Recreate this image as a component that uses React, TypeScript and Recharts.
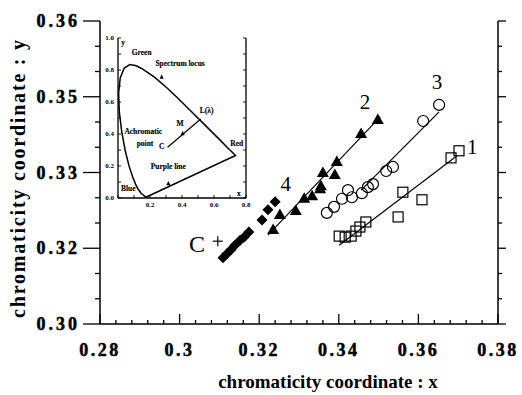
import { ScatterChart, Scatter, XAxis, YAxis, ReferenceDot } from 'recharts'

// ---- main axes
const xMajorTicks = [0.28, 0.3, 0.32, 0.34, 0.36, 0.38]
const xTickLabels = ['0.28', '0.3', '0.32', '0.34', '0.36', '0.38']
const xMinorTicks = [
  0.284, 0.288, 0.292, 0.296, 0.304, 0.308, 0.312, 0.316, 0.324, 0.328,
  0.332, 0.336, 0.344, 0.348, 0.352, 0.356, 0.364, 0.368, 0.372, 0.376,
]
// labels as printed on the scan
const yMajorTicks = [0.3, 0.315, 0.33, 0.345, 0.36]
const yTickLabels = ['0.30', '0.32', '0.33', '0.35', '0.36']
const yMinorTicks = [0.305, 0.31, 0.32, 0.325, 0.335, 0.34, 0.35, 0.355]

// ---- main series
const series1 = [
  { x: 0.3401, y: 0.3174 }, { x: 0.3416, y: 0.3172 }, { x: 0.3431, y: 0.3174 },
  { x: 0.3443, y: 0.3184 }, { x: 0.3453, y: 0.3192 }, { x: 0.3468, y: 0.3202 },
  { x: 0.3549, y: 0.3212 }, { x: 0.3561, y: 0.3261 }, { x: 0.3609, y: 0.3246 },
  { x: 0.3682, y: 0.3329 }, { x: 0.3702, y: 0.3343 },
]
const series2 = [
  { x: 0.3235, y: 0.3186 }, { x: 0.3252, y: 0.3216 }, { x: 0.3292, y: 0.3224 },
  { x: 0.3313, y: 0.3248 }, { x: 0.3333, y: 0.3253 }, { x: 0.3353, y: 0.3267 },
  { x: 0.3355, y: 0.3273 }, { x: 0.336, y: 0.3299 }, { x: 0.339, y: 0.3295 },
  { x: 0.3395, y: 0.3321 }, { x: 0.3456, y: 0.3376 }, { x: 0.3498, y: 0.3404 },
]
const series3 = [
  { x: 0.337, y: 0.322 }, { x: 0.3388, y: 0.3232 }, { x: 0.3408, y: 0.3248 },
  { x: 0.3423, y: 0.3265 }, { x: 0.3433, y: 0.3251 }, { x: 0.3458, y: 0.3259 },
  { x: 0.3473, y: 0.3271 }, { x: 0.3486, y: 0.3277 }, { x: 0.3519, y: 0.3303 },
  { x: 0.3536, y: 0.3311 }, { x: 0.3612, y: 0.3402 }, { x: 0.3652, y: 0.3434 },
]
const series4 = [
  { x: 0.3109, y: 0.3131 }, { x: 0.3119, y: 0.3139 }, { x: 0.3129, y: 0.3147 },
  { x: 0.3139, y: 0.3156 }, { x: 0.3152, y: 0.3166 }, { x: 0.3162, y: 0.3172 },
  { x: 0.3174, y: 0.3182 }, { x: 0.3207, y: 0.3206 }, { x: 0.3222, y: 0.3226 },
  { x: 0.324, y: 0.3242 },
]
const fit1 = [{ x: 0.3401, y: 0.3156 }, { x: 0.3697, y: 0.3333 }]
const fit2 = [{ x: 0.3222, y: 0.3176 }, { x: 0.3504, y: 0.341 }]
const fit3 = [{ x: 0.3456, y: 0.3265 }, { x: 0.3652, y: 0.342 }]
const pointC = [{ x: 0.3096, y: 0.3164 }]

const curveLabels = [
  { text: '1', x: 0.3735, y: 0.335 },
  { text: '2', x: 0.3466, y: 0.344 },
  { text: '3', x: 0.3647, y: 0.3479 },
  { text: '4', x: 0.3267, y: 0.3277 },
]
const cLabel = { text: 'C', x: 0.3044, y: 0.3158 }

// ---- inset (CIE 1931 diagram)
const insetXTicks = [0, 0.1, 0.2, 0.3, 0.4, 0.5, 0.6, 0.7, 0.8]
const insetXMajor = [0.2, 0.4, 0.6, 0.8]
const insetXLabels = ['0.2', '0.4', '0.6', '0.8']
const insetYTicks = [0, 0.1, 0.2, 0.3, 0.4, 0.5, 0.6, 0.7, 0.8, 0.9, 1.0]
const insetYMajor = [0, 0.2, 0.4, 0.6, 0.8, 1.0]
const insetYLabels = ['0.0', '0.2', '0.4', '0.6', '0.8', '1.0']

const locus = [
  { x: 0.1741, y: 0.005 }, { x: 0.144, y: 0.0297 }, { x: 0.1241, y: 0.0578 },
  { x: 0.1096, y: 0.0868 }, { x: 0.0913, y: 0.1327 }, { x: 0.0687, y: 0.2007 },
  { x: 0.0454, y: 0.295 }, { x: 0.0235, y: 0.4127 }, { x: 0.0082, y: 0.5384 },
  { x: 0.0039, y: 0.6548 }, { x: 0.0139, y: 0.7502 }, { x: 0.0389, y: 0.812 },
  { x: 0.0743, y: 0.8338 }, { x: 0.1142, y: 0.8262 }, { x: 0.1547, y: 0.8059 },
  { x: 0.2296, y: 0.7543 }, { x: 0.3016, y: 0.6923 }, { x: 0.3731, y: 0.6245 },
  { x: 0.4441, y: 0.5547 }, { x: 0.5125, y: 0.4866 }, { x: 0.5752, y: 0.4242 },
  { x: 0.627, y: 0.3725 }, { x: 0.6915, y: 0.3083 }, { x: 0.719, y: 0.2809 },
  { x: 0.7347, y: 0.2653 }, { x: 0.1741, y: 0.005 },
]
const dominantLine = [{ x: 0.31, y: 0.317 }, { x: 0.517, y: 0.494 }]
const insetArrows = [{ x: 0.404, y: 0.404 }, { x: 0.273, y: 0.758 }, { x: 0.315, y: 0.092 }]
const insetTexts = [
  { text: 'Green', x: 0.086, y: 0.911, anchor: 'start' },
  { text: 'Spectrum locus', x: 0.388, y: 0.842, anchor: 'middle' },
  { text: 'L(λ)', x: 0.554, y: 0.55, anchor: 'middle' },
  { text: 'M', x: 0.388, y: 0.467, anchor: 'middle' },
  { text: 'Achromatic', x: 0.158, y: 0.414, anchor: 'middle' },
  { text: 'point', x: 0.169, y: 0.342, anchor: 'middle' },
  { text: 'C', x: 0.273, y: 0.325, anchor: 'middle' },
  { text: 'Red', x: 0.742, y: 0.342, anchor: 'middle' },
  { text: 'Purple line', x: 0.314, y: 0.196, anchor: 'middle' },
  { text: 'Blue', x: 0.064, y: 0.061, anchor: 'middle' },
  { text: 'y', x: 0.02, y: 0.975, anchor: 'start' },
  { text: 'x', x: 0.755, y: 0.03, anchor: 'middle' },
]

const SERIF = '"Liberation Serif", "DejaVu Serif", serif'
const sortNum = (a: number[]) => [...a].sort((p, q) => p - q)

type TickCfg = {
  majors: number[]
  labels?: string[]
  dir: [number, number]
  majorLen: number
  minorLen: number
  lx?: number
  ly?: number
  anchor?: string
  fontSize?: number
  spacing?: number
  sw?: number
  heavy?: number
}

function makeTick(cfg: TickCfg) {
  return (props: any) => {
    const { x, y, payload } = props
    const idx = cfg.majors.findIndex(m => Math.abs(m - payload.value) < 1e-6)
    const len = idx >= 0 ? cfg.majorLen : cfg.minorLen
    const label = idx >= 0 && cfg.labels ? cfg.labels[idx] : ''
    return (
      <g>
        <line x1={x} y1={y} x2={x + cfg.dir[0] * len} y2={y + cfg.dir[1] * len} stroke="#000" strokeWidth={cfg.sw ?? 1.3} />
        {label && (
          <text
            x={x + (cfg.lx ?? 0)}
            y={y + (cfg.ly ?? 0)}
            textAnchor={cfg.anchor}
            dominantBaseline="central"
            fontFamily={SERIF}
            fontWeight="bold"
            fontSize={cfg.fontSize}
            style={{ letterSpacing: cfg.spacing ?? 0 }}
            fill="#000"
            stroke="#000"
            strokeWidth={cfg.heavy ?? 0}
          >
            {label}
          </text>
        )}
      </g>
    )
  }
}

const openSquare = (p: any) => <rect x={p.cx - 5} y={p.cy - 5} width={10} height={10} fill="none" stroke="#000" strokeWidth={1.2} />
const openCircle = (p: any) => <circle cx={p.cx} cy={p.cy} r={5.5} fill="none" stroke="#000" strokeWidth={1.2} />
const solidTriangle = (p: any) => (
  <polygon points={`${p.cx},${p.cy - 6.5} ${p.cx - 6},${p.cy + 4} ${p.cx + 6},${p.cy + 4}`} fill="#000" />
)
const solidDiamond = (p: any) => (
  <polygon points={`${p.cx},${p.cy - 5.5} ${p.cx + 5.5},${p.cy} ${p.cx},${p.cy + 5.5} ${p.cx - 5.5},${p.cy}`} fill="#000" />
)
const plusMark = (p: any) => (
  <g stroke="#000" strokeWidth={1.2}>
    <line x1={p.cx - 5} y1={p.cy} x2={p.cx + 5} y2={p.cy} />
    <line x1={p.cx} y1={p.cy - 5} x2={p.cx} y2={p.cy + 5} />
  </g>
)
const smallArrow = (p: any) => (
  <polygon points={`${p.cx},${p.cy - 2.5} ${p.cx - 2},${p.cy + 2} ${p.cx + 2},${p.cy + 2}`} fill="#000" />
)
const noDot = () => <g />

function Inset() {
  return (
    <div style={{ position: 'absolute', left: 90, top: 28 }}>
      <ScatterChart width={165} height={185} margin={{ top: 10, right: 0, bottom: 0, left: 0 }}>
        <XAxis
          type="number" dataKey="x" domain={[0, 0.8]} ticks={insetXTicks} interval={0}
          height={15} tickSize={0} tickMargin={0} tickLine={false}
          axisLine={{ stroke: '#000', strokeWidth: 1.3 }}
          tick={makeTick({ majors: insetXMajor, labels: insetXLabels, dir: [0, -1], majorLen: 3, minorLen: 3, ly: 7, anchor: 'middle', fontSize: 7, sw: 0.9 })}
        />
        <XAxis
          xAxisId="top" orientation="top" type="number" domain={[0, 0.8]} ticks={insetXTicks} interval={0}
          height={0} tickSize={0} tickMargin={0} tickLine={false} allowDataOverflow
          axisLine={{ stroke: '#000', strokeWidth: 1.3 }}
          tick={makeTick({ majors: [], dir: [0, 1], majorLen: 3, minorLen: 3, sw: 0.9 })}
        />
        <YAxis
          type="number" dataKey="y" domain={[0, 1]} ticks={insetYTicks} interval={0}
          width={28} tickSize={0} tickMargin={0} tickLine={false}
          axisLine={{ stroke: '#000', strokeWidth: 1.3 }}
          tick={makeTick({ majors: insetYMajor, labels: insetYLabels, dir: [1, 0], majorLen: 3, minorLen: 3, lx: -4, anchor: 'end', fontSize: 7, sw: 0.9 })}
        />
        <YAxis
          yAxisId="right" orientation="right" type="number" domain={[0, 1]} ticks={insetYTicks} interval={0}
          width={9} tickSize={0} tickMargin={0} tickLine={false} allowDataOverflow
          axisLine={{ stroke: '#000', strokeWidth: 1.3 }}
          tick={makeTick({ majors: [], dir: [-1, 0], majorLen: 3, minorLen: 3, sw: 0.9 })}
        />
        <Scatter data={locus} line={{ stroke: '#000', strokeWidth: 1.5 }} shape={noDot} isAnimationActive={false} />
        <Scatter data={dominantLine} line={{ stroke: '#000', strokeWidth: 1.2 }} shape={noDot} isAnimationActive={false} />
        <Scatter data={insetArrows} shape={smallArrow} isAnimationActive={false} />
        {insetTexts.map(t => (
          <ReferenceDot
            key={t.text}
            x={t.x}
            y={t.y}
            shape={(p: any) => (
              <text x={p.cx} y={p.cy} textAnchor={t.anchor} dominantBaseline="central" fontFamily={SERIF} fontWeight="bold" fontSize={7.5} fill="#000" stroke="#000" strokeWidth={0.15}>
                {t.text}
              </text>
            )}
          />
        ))}
      </ScatterChart>
    </div>
  )
}

export default function App() {
  const xTicks = sortNum([...xMajorTicks, ...xMinorTicks])
  const yTicks = sortNum([...yMajorTicks, ...yMinorTicks])

  return (
    <div style={{ position: 'absolute', left: 0, top: 0, width: 522, height: 395, background: '#fff' }}>
      <ScatterChart width={522} height={395} margin={{ top: 21, right: 0, bottom: 21, left: 0 }}>
        <XAxis
          type="number" dataKey="x" domain={[0.28, 0.38]} ticks={xTicks} interval={0}
          height={50} tickSize={0} tickMargin={0} tickLine={false}
          axisLine={{ stroke: '#000', strokeWidth: 1.5 }}
          tick={makeTick({ majors: xMajorTicks, labels: xTickLabels, dir: [0, -1], majorLen: 10, minorLen: 4, ly: 26, anchor: 'middle', fontSize: 18, spacing: 2.5, heavy: 0.5 })}
          label={{
            content: () => (
              <text x={328} y={388} textAnchor="middle" fontFamily={SERIF} fontWeight="bold" fontSize={19} fill="#000">
                chromaticity coordinate : x
              </text>
            ),
          }}
        />
        <XAxis
          xAxisId="top" orientation="top" type="number" domain={[0.28, 0.38]} ticks={xTicks} interval={0}
          height={0} tickSize={0} tickMargin={0} tickLine={false} allowDataOverflow
          axisLine={{ stroke: '#000', strokeWidth: 1.5 }}
          tick={makeTick({ majors: xMajorTicks, dir: [0, 1], majorLen: 10, minorLen: 4 })}
        />
        <YAxis
          type="number" dataKey="y" domain={[0.3, 0.36]} ticks={yTicks} interval={0}
          width={100} tickSize={0} tickMargin={0} tickLine={false}
          axisLine={{ stroke: '#000', strokeWidth: 1.5 }}
          tick={makeTick({ majors: yMajorTicks, labels: yTickLabels, dir: [-1, 0], majorLen: 17, minorLen: 5, lx: -20, anchor: 'end', fontSize: 18, spacing: 3, heavy: 0.5 })}
          label={{
            content: () => (
              <text x={18} y={178} transform="rotate(-90 18 178)" textAnchor="middle" dominantBaseline="central" fontFamily={SERIF} fontWeight="bold" fontSize={20} style={{ letterSpacing: 1.8 }} fill="#000">
                chromaticity coordinate : y
              </text>
            ),
          }}
        />
        <YAxis
          yAxisId="right" orientation="right" type="number" domain={[0.3, 0.36]} ticks={yTicks} interval={0}
          width={24} tickSize={0} tickMargin={0} tickLine={false} allowDataOverflow
          axisLine={{ stroke: '#000', strokeWidth: 1.5 }}
          tick={makeTick({ majors: yMajorTicks, dir: [1, 0], majorLen: 8, minorLen: 4 })}
        />

        <Scatter data={fit1} line={{ stroke: '#000', strokeWidth: 1.2 }} shape={noDot} isAnimationActive={false} />
        <Scatter data={fit2} line={{ stroke: '#000', strokeWidth: 1.2 }} shape={noDot} isAnimationActive={false} />
        <Scatter data={fit3} line={{ stroke: '#000', strokeWidth: 1.2 }} shape={noDot} isAnimationActive={false} />

        <Scatter data={series1} shape={openSquare} isAnimationActive={false} />
        <Scatter data={series2} shape={solidTriangle} isAnimationActive={false} />
        <Scatter data={series3} shape={openCircle} isAnimationActive={false} />
        <Scatter data={series4} shape={solidDiamond} isAnimationActive={false} />
        <Scatter data={pointC} shape={plusMark} isAnimationActive={false} />

        {curveLabels.map(l => (
          <ReferenceDot
            key={l.text}
            x={l.x}
            y={l.y}
            shape={(p: any) => (
              <text x={p.cx} y={p.cy} textAnchor="middle" dominantBaseline="central" fontFamily={SERIF} fontSize={21} fill="#000">
                {l.text}
              </text>
            )}
          />
        ))}
        <ReferenceDot
          x={cLabel.x}
          y={cLabel.y}
          shape={(p: any) => (
            <text x={p.cx} y={p.cy} textAnchor="middle" dominantBaseline="central" fontFamily={SERIF} fontSize={24} fill="#000">
              {cLabel.text}
            </text>
          )}
        />
      </ScatterChart>
      <Inset />
    </div>
  )
}
